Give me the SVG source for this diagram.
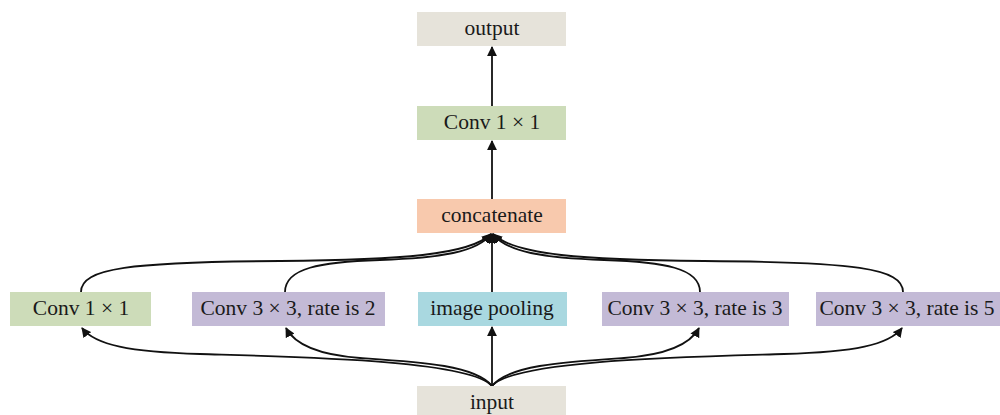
<svg xmlns="http://www.w3.org/2000/svg" width="1000" height="415" viewBox="0 0 1000 415">
<style>
text{font-family:"Liberation Serif","DejaVu Serif",serif;font-size:21.5px;fill:#1a1a1a;text-anchor:middle;dominant-baseline:central}
.c{fill:none;stroke:#111;stroke-width:1.8}
.beige{fill:#e6e3da}.green{fill:#cddcb9}.orange{fill:#f8c9ad}.purple{fill:#c3bad6}.cyan{fill:#a9d8e0}
</style>
<defs>
<marker id="ah" viewBox="0 0 10 10" refX="9" refY="5" markerWidth="5.5" markerHeight="5.5" orient="auto" markerUnits="strokeWidth">
<path d="M0,0 L10,5 L0,10 z" fill="#111"/>
</marker>
</defs>
<rect width="1000" height="415" fill="#fff"/>
<g id="connectors">
<path class="c" marker-end="url(#ah)" d="M492,199 L492,141"/>
<path class="c" marker-end="url(#ah)" d="M492,106 L492,47"/>
<path class="c" marker-end="url(#ah)" d="M492,293 L492,234"/>
<path class="c" marker-end="url(#ah)" d="M492,386 L492,327"/>
<path class="c" marker-end="url(#ah)" d="M81,292 C81,268 130,262 280,261 C400,260 470,255 491,234"/>
<path class="c" marker-end="url(#ah)" d="M285,292 C285,268 320,262 380,260 C440,258 478,252 491,234"/>
<path class="c" marker-end="url(#ah)" d="M903,292 C903,268 854,262 704,261 C584,260 514,255 493,234"/>
<path class="c" marker-end="url(#ah)" d="M700,292 C700,268 664,262 604,260 C544,258 506,252 493,234"/>
<path class="c" marker-end="url(#ah)" d="M492,386 C470,360 300,357 200,354 C130,352 95,345 82,328"/>
<path class="c" marker-end="url(#ah)" d="M492,386 C475,365 420,362 360,358 C320,355 295,345 286,328"/>
<path class="c" marker-end="url(#ah)" d="M492,386 C514,360 684,357 784,354 C854,352 889,345 902,328"/>
<path class="c" marker-end="url(#ah)" d="M492,386 C509,365 564,362 624,358 C664,355 690,345 699,328"/>
</g>
<g id="output"><rect class="beige" x="417" y="12" width="149" height="34"/><text x="492" y="28">output</text></g>
<g id="conv_top"><rect class="green" x="417" y="106" width="149" height="34"/><text x="492" y="122">Conv 1 × 1</text></g>
<g id="concatenate"><rect class="orange" x="417" y="199" width="149" height="34"/><text x="492" y="215">concatenate</text></g>
<g id="conv1"><rect class="green" x="10" y="292" width="141" height="34"/><text x="81" y="308">Conv 1 × 1</text></g>
<g id="conv_r2"><rect class="purple" x="192" y="292" width="193" height="34"/><text x="288" y="308">Conv 3 × 3, rate is 2</text></g>
<g id="image_pooling"><rect class="cyan" x="418" y="292" width="149" height="34"/><text x="492" y="308">image pooling</text></g>
<g id="conv_r3"><rect class="purple" x="602" y="292" width="187" height="34"/><text x="695" y="308">Conv 3 × 3, rate is 3</text></g>
<g id="conv_r5"><rect class="purple" x="816" y="292" width="184" height="34"/><text x="907" y="308">Conv 3 × 3, rate is 5</text></g>
<g id="input"><rect class="beige" x="417" y="386" width="149" height="29"/><text x="492" y="402">input</text></g>
</svg>
